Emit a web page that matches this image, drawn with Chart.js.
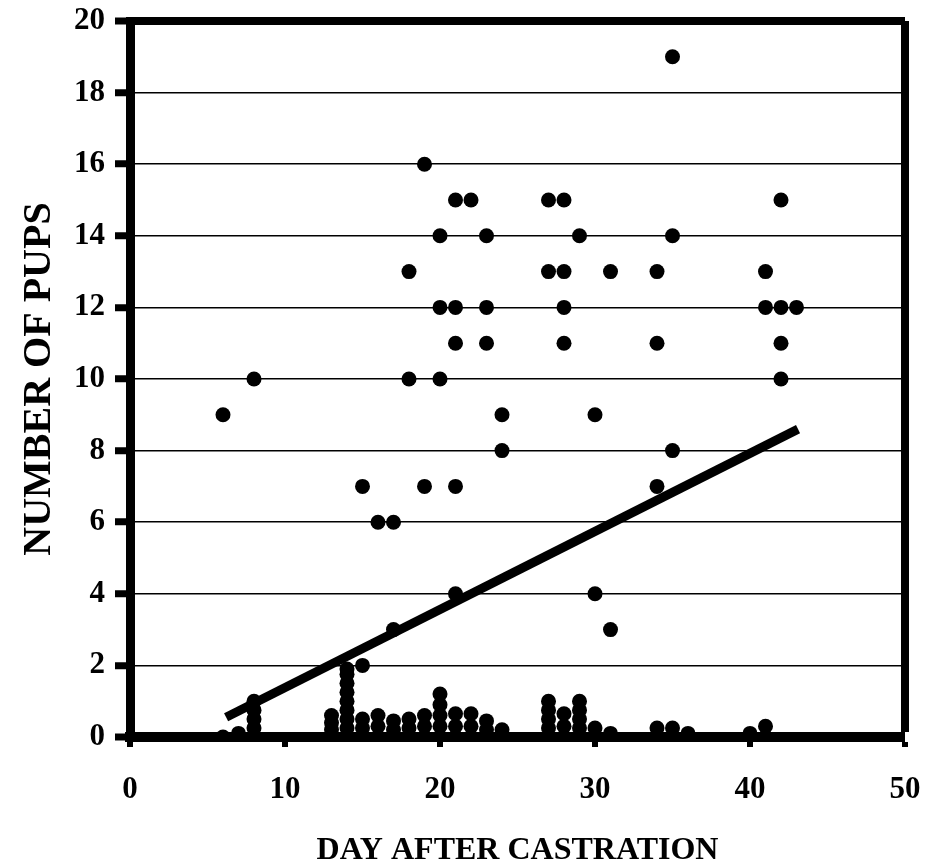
<!DOCTYPE html>
<html>
<head>
<meta charset="utf-8">
<script src="https://cdn.jsdelivr.net/npm/chart.js@4.4.1/dist/chart.umd.min.js"></script>
<style>
  html, body { margin: 0; padding: 0; background: #ffffff; overflow: hidden; }
  #wrap { width: 927px; height: 867px; }
</style>
</head>
<body>
<div id="wrap"><canvas id="chart" width="927" height="867"></canvas></div>
<script>
// puntos altos (dia, crias)
const HIGH_DAYS = [6, 8, 15, 16, 17, 17, 15, 18, 18, 19, 19, 20, 20, 20, 21, 22, 21, 21, 21, 21,
  23, 23, 23, 24, 24, 27, 28, 27, 28, 28, 28, 29, 30, 30, 31, 31, 34, 34, 34, 35, 35, 35,
  41, 41, 42, 42, 42, 42, 43];
const HIGH_PUPS = [9, 10, 7, 6, 6, 3, 2, 13, 10, 16, 7, 14, 12, 10, 15, 15, 12, 11, 7, 4,
  14, 12, 11, 9, 8, 15, 15, 13, 13, 12, 11, 14, 9, 4, 13, 3, 13, 11, 7, 19, 14, 8,
  13, 12, 15, 12, 11, 10, 12];

// puntos cerca de cero
const LOW_DAYS = [6, 7, 8, 8, 8, 8, 8, 13, 13, 13, 13,
  14, 14, 14, 14, 14, 14, 14, 14, 14,
  15, 15, 15, 16, 16, 16, 17, 17, 17, 18, 18, 18, 19, 19, 19,
  20, 20, 20, 20, 20, 21, 21, 21, 22, 22, 22, 23, 23, 23, 24, 24,
  27, 27, 27, 27, 27, 28, 28, 28, 29, 29, 29, 29, 29, 30, 30, 31,
  34, 35, 36, 40, 41, 41];
const LOW_PUPS = [0, 0.1, 0, 0.25, 0.5, 0.75, 1.0, 0, 0.2, 0.4, 0.6,
  0, 0.25, 0.5, 0.75, 1.0, 1.25, 1.5, 1.75, 1.9,
  0, 0.25, 0.5, 0, 0.3, 0.6, 0, 0.2, 0.45, 0, 0.25, 0.5, 0, 0.3, 0.6,
  0, 0.3, 0.6, 0.9, 1.2, 0, 0.3, 0.65, 0, 0.3, 0.65, 0, 0.2, 0.45, 0, 0.2,
  0, 0.25, 0.5, 0.75, 1.0, 0, 0.3, 0.65, 0, 0.25, 0.5, 0.75, 1.0, 0, 0.25, 0.1,
  0.25, 0.25, 0.1, 0.1, 0, 0.3];

// recta de regresion
const TREND_DAYS = [6.2, 43.1];
const TREND_PUPS = [0.55, 8.6];

const X_TICKS = [0, 10, 20, 30, 40, 50];
const Y_TICKS = [0, 2, 4, 6, 8, 10, 12, 14, 16, 18, 20];

const X_TITLE = "DAY AFTER CASTRATION";
const Y_TITLE = "NUMBER OF PUPS";

function aPuntos(xs, ys) {
  return xs.map((x, i) => ({ x: x, y: ys[i] }));
}

// que el layout use solo el padding fijo
function sinPadding(scale) {
  scale.paddingLeft = 0;
  scale.paddingRight = 0;
  scale.paddingTop = 0;
  scale.paddingBottom = 0;
}

const FUENTE = "'Liberation Serif', 'Times New Roman', serif";

const puntos = aPuntos(HIGH_DAYS, HIGH_PUPS).concat(aPuntos(LOW_DAYS, LOW_PUPS));

new Chart(document.getElementById("chart"), {
  type: "scatter",
  data: {
    datasets: [
      {
        type: "line",
        data: aPuntos(TREND_DAYS, TREND_PUPS),
        borderColor: "#000000",
        borderWidth: 9,
        borderCapStyle: "butt",
        pointRadius: 0,
        showLine: true,
        fill: false
      },
      {
        data: puntos,
        pointRadius: 7.5,
        pointBackgroundColor: "#000000",
        pointBorderWidth: 0,
        showLine: false
      }
    ]
  },
  options: {
    responsive: false,
    animation: false,
    layout: {
      padding: { top: 21, right: 22, left: 0, bottom: 0 }
    },
    plugins: {
      legend: { display: false },
      tooltip: { enabled: false }
    },
    scales: {
      x: {
        type: "linear",
        min: 0,
        max: 50,
        afterBuildTicks(scale) {
          scale.ticks = X_TICKS.map((v) => ({ value: v }));
        },
        afterFit(scale) {
          scale.height = 130;
          sinPadding(scale);
        },
        ticks: {
          color: "#000000",
          padding: 24,
          maxRotation: 0,
          font: { family: FUENTE, weight: "bold", size: 31 }
        },
        grid: {
          color: "#000000",
          lineWidth: (ctx) => (ctx.tick && ctx.tick.value === 50 ? 8 : 0),
          tickLength: 10,
          tickWidth: 6,
          tickColor: "#000000"
        },
        border: { color: "#000000", width: 10 },
        title: {
          display: true,
          text: X_TITLE,
          color: "#000000",
          padding: { top: 0, bottom: 0 },
          font: { family: FUENTE, weight: "bold", size: 32, lineHeight: 1 }
        }
      },
      y: {
        type: "linear",
        min: 0,
        max: 20,
        afterBuildTicks(scale) {
          scale.ticks = Y_TICKS.map((v) => ({ value: v }));
        },
        afterFit(scale) {
          scale.width = 130;
          sinPadding(scale);
        },
        ticks: {
          color: "#000000",
          padding: 10,
          font: { family: FUENTE, weight: "bold", size: 31 }
        },
        grid: {
          color: "#000000",
          lineWidth: (ctx) => {
            if (!ctx.tick) return 1.5;
            if (ctx.tick.value === 20) return 8;
            if (ctx.tick.value === 0) return 0;
            return 1.5;
          },
          tickLength: 15,
          tickWidth: 7,
          tickColor: "#000000"
        },
        border: { color: "#000000", width: 9 },
        title: {
          display: true,
          text: Y_TITLE,
          color: "#000000",
          padding: { top: 20, bottom: 0 },
          font: { family: FUENTE, weight: "bold", size: 40, lineHeight: 1 }
        }
      }
    }
  }
});
</script>
</body>
</html>
